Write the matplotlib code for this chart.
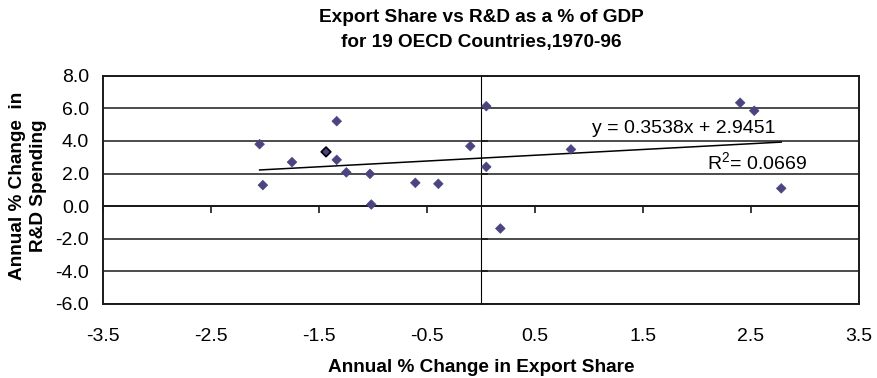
import matplotlib
matplotlib.use("Agg")
import matplotlib.pyplot as plt
import numpy as np

plt.rcParams['font.family'] = ['Liberation Sans', 'DejaVu Sans']
plt.rcParams['mathtext.fontset'] = 'custom'
plt.rcParams['mathtext.rm'] = 'Liberation Sans'

export_change = [-2.05, -2.02, -1.75, -1.435, -1.336, -1.336, -1.247, -1.028, -1.016,
                 -0.608, -0.395, -0.099, 0.049, 0.049, 0.179, 0.833, 2.40, 2.53, 2.78]
rd_change = [3.80, 1.29, 2.70, 3.33, 5.21, 2.84, 2.07, 1.98, 0.10,
             1.43, 1.37, 3.68, 6.13, 2.41, -1.37, 3.48, 6.34, 5.85, 1.09]
highlight_index = 3
slope = 0.3538
intercept = 2.9451
r_squared = 0.0669
x_ticks = [-3.5, -2.5, -1.5, -0.5, 0.5, 1.5, 2.5, 3.5]
y_ticks = [-6.0, -4.0, -2.0, 0.0, 2.0, 4.0, 6.0, 8.0]

fig = plt.figure(figsize=(8.77, 3.78), dpi=100)
ax = fig.add_axes([103/877, 1-304/378, (859-103)/877, (304-75.7)/378])
ax.set_xlim(-3.5, 3.5)
ax.set_ylim(-6, 8)

lc = '#1a1a1a'
for y in y_ticks:
    ax.axhline(y, color=lc, lw=1.1, zorder=1)
for s in ax.spines.values():
    s.set_color(lc)
    s.set_linewidth(1.4)

colors = ['#4a4580'] * len(export_change)
edges = ['#4a4580'] * len(export_change)
edges[highlight_index] = 'black'
ax.scatter(export_change, rd_change, marker='D', s=24, c=colors, edgecolors=edges,
           linewidths=[1.2 if i == highlight_index else 0.5 for i in range(len(export_change))],
           zorder=4)

xs = np.array([min(export_change), max(export_change)])
ax.plot(xs, slope * xs + intercept, color='black', lw=1.1, zorder=3)

ax.text(1.03, 4.79, f"y = {slope:.4f}x + {intercept:.4f}", fontsize=14, va='center', ha='left')
ax.text(2.09, 2.64, "R$^2$= " + f"{r_squared:.4f}", fontsize=14, va='center', ha='left')

ax.set_xticks(x_ticks)
ax.set_xticklabels([f"{v:.1f}" for v in x_ticks])
ax.set_yticks(y_ticks)
ax.set_yticklabels([f"{v:.1f}" for v in y_ticks])
ax.tick_params(axis='both', length=0, labelsize=14)
ax.tick_params(axis='x', pad=17)
ax.tick_params(axis='y', pad=10)

sx = ax.secondary_xaxis(6/14)
sx.set_xticks(x_ticks)
sx.tick_params(length=5, direction='out', labelbottom=False, labeltop=False, width=1.2, color=lc)
sx.spines['bottom'].set_linewidth(1.4)
sx.spines['bottom'].set_color(lc)
sx.xaxis.set_ticks_position('bottom')
sx.set_xticklabels([])

sy = ax.secondary_yaxis(0.5)
sy.set_yticks(y_ticks)
sy.tick_params(length=5, direction='out', width=1.2, color=lc)
sy.set_yticklabels([])
sy.spines['left'].set_linewidth(1.4)
sy.spines['left'].set_color(lc)

ax.set_xlabel("Annual % Change in Export Share", fontsize=13.7, fontweight='bold', labelpad=10)
fig.text(28/877, 1-186/378, "Annual % Change  in\nR&D Spending", rotation=90,
         ha='center', va='center', fontsize=13.7, fontweight='bold', linespacing=1.3)
fig.text(481/877, 1-30/378, "Export Share vs R&D as a % of GDP\nfor 19 OECD Countries,1970-96",
         ha='center', va='center', fontsize=13.7, fontweight='bold', linespacing=1.65)

fig.savefig("out.png", dpi=100)
